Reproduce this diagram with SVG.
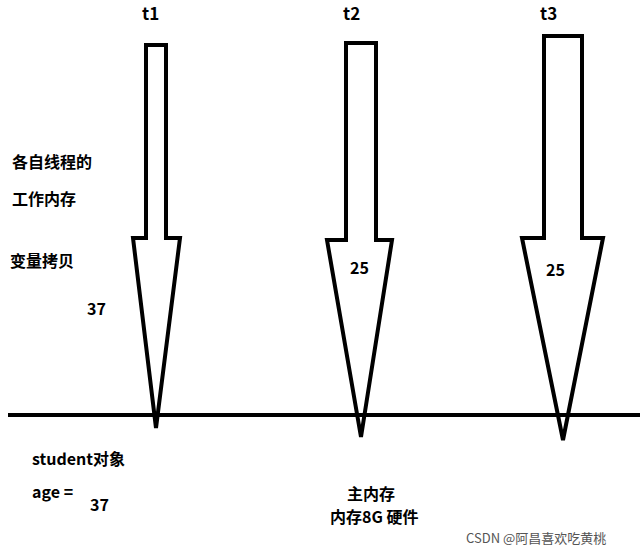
<svg xmlns="http://www.w3.org/2000/svg" width="640" height="554" viewBox="0 0 640 554">
<style>
.a{fill:none;stroke:#000;stroke-width:4;stroke-linejoin:miter}
text{font-family:"Noto Sans CJK SC","Liberation Sans",sans-serif;font-weight:bold;fill:#000}
.b{font-size:16px}
.t{font-size:17px}
</style>
<rect width="640" height="554" fill="#fff"/>
<g id="connectors">
<line x1="8" y1="415" x2="640" y2="415" stroke="#000" stroke-width="4"/>
</g>
<g id="t1"><path class="a" d="M146 45H166V238H180L156 428L133 238H146Z"/><text class="t" x="142" y="20">t1</text></g>
<g id="t2"><path class="a" d="M346 43H376V240H392L361 437L327 240H346Z"/><text class="t" x="343" y="20">t2</text><text class="b" x="350" y="274">25</text></g>
<g id="t3"><path class="a" d="M544 36H582V238H603L563 440L522 238H544Z"/><text class="t" x="540" y="20">t3</text><text class="b" x="546" y="276">25</text></g>
<g id="labels">
<text class="b" x="12" y="168">各自线程的</text>
<text class="b" x="12" y="205">工作内存</text>
<text class="b" x="10" y="267">变量拷贝</text>
<text class="b" x="87" y="315">37</text>
<text class="b" x="32" y="465">student对象</text>
<text class="b" x="32" y="498">age =</text>
<text class="b" x="90" y="511">37</text>
<text class="b" x="347" y="500">主内存</text>
<text class="b" x="330" y="523">内存8G 硬件</text>
<text x="466" y="543" font-size="13" style="font-weight:normal;fill:#555">CSDN @阿昌喜欢吃黄桃</text>
</g>
</svg>
